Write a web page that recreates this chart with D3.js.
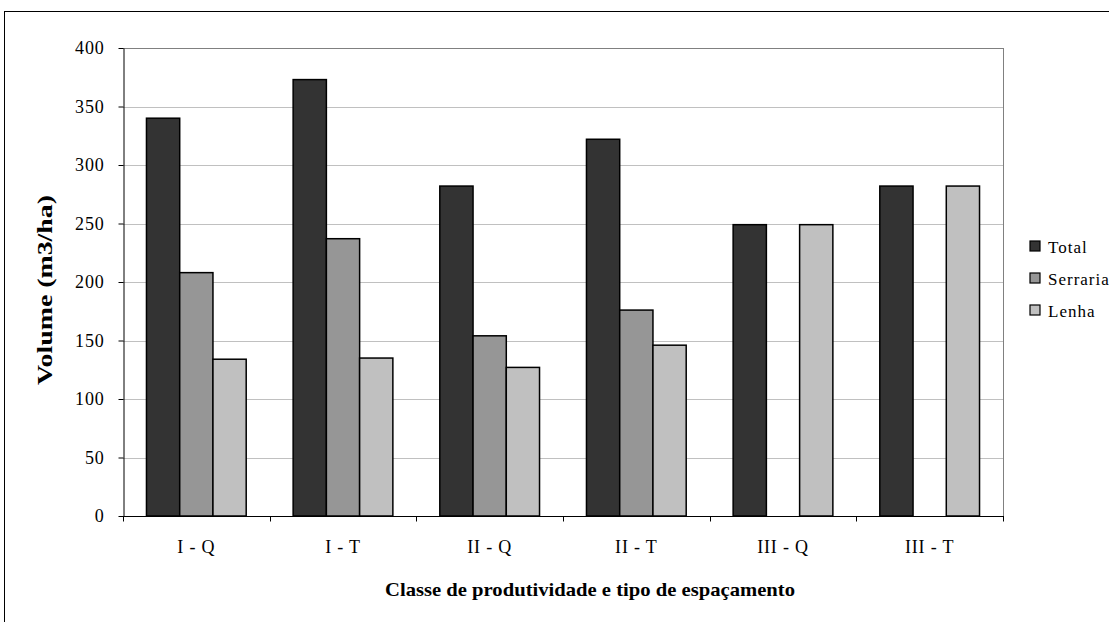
<!DOCTYPE html>
<html>
<head>
<meta charset="utf-8">
<script src="https://cdn.jsdelivr.net/npm/d3@7"></script>
<style>
  html, body { margin: 0; padding: 0; background: #fff; }
  svg { display: block; }
  text { font-family: "Liberation Serif", "Times New Roman", serif; fill: #000; }
</style>
</head>
<body>
<svg id="chart" width="1109" height="622"></svg>
<script>
// ---- data ----
const categories = ["I - Q", "I - T", "II - Q", "II - T", "III - Q", "III - T"];
const seriesNames = ["Total", "Serraria", "Lenha"];
const totalValues    = [340, 373, 282, 322, 249, 282];
const serrariaValues = [208, 237, 154, 176, null, null];
const lenhaValues    = [134, 135, 127, 146, 249, 282];
const seriesColors = ["#333333", "#969696", "#c0c0c0"];
const yTicks = [0, 50, 100, 150, 200, 250, 300, 350, 400];
const yTitle = "Volume (m3/ha)";
const xTitle = "Classe de produtividade e tipo de espaçamento";

const seriesValues = [totalValues, serrariaValues, lenhaValues];

const svg = d3.select("#chart");
const plot = { left: 123, right: 1003, top: 48, bottom: 516 };

// outer frame
svg.append("rect")
  .attr("x", 4.5).attr("y", 11.5)
  .attr("width", 1200).attr("height", 700)
  .attr("fill", "none").attr("stroke", "#000").attr("stroke-width", 1);

const x0 = d3.scaleBand().domain(categories).range([plot.left, plot.right]).padding(0);
const bw = x0.bandwidth();
const x1 = d3.scaleBand().domain(seriesNames).range([bw * 0.16, bw * 0.84]).padding(0);
const y = d3.scaleLinear().domain([0, 400]).range([plot.bottom, plot.top]);

// gridlines
svg.append("g").selectAll("line").data(yTicks.filter(d => d > 0)).join("line")
  .attr("x1", plot.left).attr("x2", plot.right)
  .attr("y1", d => Math.round(y(d)) + 0.5).attr("y2", d => Math.round(y(d)) + 0.5)
  .attr("stroke", "#c0c0c0").attr("stroke-width", 1);

// plot border (top + right)
svg.append("line")
  .attr("x1", plot.right + 0.5).attr("x2", plot.right + 0.5)
  .attr("y1", plot.top).attr("y2", plot.bottom)
  .attr("stroke", "#808080");
svg.append("line")
  .attr("x1", plot.left).attr("x2", plot.right)
  .attr("y1", plot.top + 0.5).attr("y2", plot.top + 0.5)
  .attr("stroke", "#808080");

// bars
const rows = [];
categories.forEach((c, i) => {
  seriesNames.forEach((s, j) => {
    const v = seriesValues[j][i];
    if (v != null) rows.push({ c, s, v, j });
  });
});
svg.append("g").selectAll("rect").data(rows).join("rect")
  .attr("x", d => x0(d.c) + x1(d.s))
  .attr("y", d => y(d.v))
  .attr("width", x1.bandwidth())
  .attr("height", d => y(0) - y(d.v))
  .attr("fill", d => seriesColors[d.j])
  .attr("stroke", "#000").attr("stroke-width", 1.5);

// y axis
const yAxis = d3.axisLeft(y).tickValues(yTicks).tickSize(5).tickPadding(14).tickSizeOuter(0);
const gy = svg.append("g").attr("transform", `translate(${plot.left + 0.5},0)`).call(yAxis);
gy.select(".domain").attr("stroke", "#000");
gy.selectAll(".tick line").attr("stroke", "#000");
gy.selectAll(".tick text").attr("font-size", 18).attr("letter-spacing", 0.8)
  .attr("font-family", "Liberation Serif, serif").attr("fill", "#000");

// x axis (ticks at category boundaries)
const gx = svg.append("g").attr("transform", `translate(0,${plot.bottom + 0.5})`);
gx.append("line").attr("x1", plot.left).attr("x2", plot.right + 1).attr("stroke", "#000");
const bounds = categories.map(c => x0(c)).concat([plot.right]);
gx.selectAll("line.tk").data(bounds).join("line").attr("class", "tk")
  .attr("x1", d => Math.round(d) + 0.5).attr("x2", d => Math.round(d) + 0.5)
  .attr("y1", 0).attr("y2", 5).attr("stroke", "#000");
gx.selectAll("text").data(categories).join("text")
  .attr("x", d => x0(d) + bw / 2).attr("y", 36)
  .attr("text-anchor", "middle").attr("font-size", 18).attr("letter-spacing", 0.8)
  .text(d => d);

// axis titles
svg.append("text")
  .attr("transform", `translate(52,290) rotate(-90)`)
  .attr("text-anchor", "middle").attr("font-size", 20).attr("font-weight", "bold")
  .attr("textLength", 190).attr("lengthAdjust", "spacingAndGlyphs")
  .text(yTitle);
svg.append("text")
  .attr("x", 590).attr("y", 596)
  .attr("text-anchor", "middle").attr("font-size", 19).attr("font-weight", "bold")
  .attr("textLength", 410).attr("lengthAdjust", "spacingAndGlyphs")
  .text(xTitle);

// legend
const lg = svg.append("g").attr("transform", "translate(1030,241)");
seriesNames.forEach((s, i) => {
  const g = lg.append("g").attr("transform", `translate(0,${i * 32})`);
  g.append("rect").attr("x", 0).attr("y", 0).attr("width", 10).attr("height", 10)
    .attr("fill", seriesColors[i]).attr("stroke", "#000").attr("stroke-width", 1.2);
  g.append("text").attr("x", 18).attr("y", 12).attr("font-size", 17).attr("letter-spacing", 1).text(s);
});
</script>
</body>
</html>
